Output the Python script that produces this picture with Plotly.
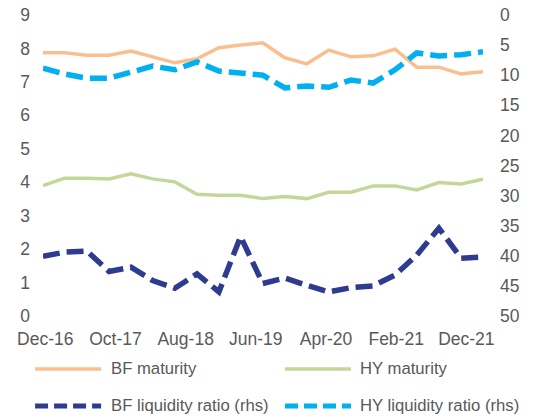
import pandas as pd
import plotly.graph_objects as go

# ---- data (quarterly, Dec-16 .. Dec-21) ----
dates = pd.date_range("2016-12-01", periods=21, freq="3MS")

bf_maturity = [7.87, 7.87, 7.80, 7.80, 7.92, 7.74, 7.57, 7.69, 8.02, 8.10, 8.17,
               7.72, 7.54, 7.95, 7.75, 7.78, 7.98, 7.44, 7.44, 7.24, 7.30]
hy_maturity = [3.90, 4.12, 4.12, 4.10, 4.25, 4.10, 4.01, 3.64, 3.61, 3.61, 3.51,
               3.57, 3.51, 3.70, 3.70, 3.89, 3.89, 3.77, 3.99, 3.95, 4.09]
bf_liquidity = [40.1, 39.4, 39.2, 42.6, 41.9, 44.1, 45.4, 43.0, 46.0, 36.8, 44.6,
                43.7, 44.9, 46.0, 45.3, 45.0, 43.2, 39.9, 35.4, 40.4, 40.2]
hy_liquidity = [8.85, 9.8, 10.5, 10.5, 9.5, 8.5, 9.1, 7.8, 9.3, 9.6, 10.0,
                12.1, 11.8, 12.0, 10.8, 11.3, 9.1, 6.3, 6.8, 6.6, 6.1]

series_names = ["BF maturity", "HY maturity", "BF liquidity ratio (rhs)", "HY liquidity ratio (rhs)"]
tick_labels = ["Dec-16", "Oct-17", "Aug-18", "Jun-19", "Apr-20", "Feb-21", "Dec-21"]

colors = {"BF maturity": "#FABF8F", "HY maturity": "#C4D79B",
          "BF liquidity ratio (rhs)": "#2E3B8E", "HY liquidity ratio (rhs)": "#00B0F0"}

start = pd.Timestamp("2016-12-01")
tick_vals = [start + pd.Timedelta(days=9.6 + 291.2 * k) for k in range(len(tick_labels))]

FONT = "Liberation Sans, Arial, sans-serif"
GREY = "#595959"

fig = go.Figure()
fig.add_trace(go.Scatter(x=dates, y=bf_maturity, name=series_names[0], mode="lines",
                         line=dict(color=colors[series_names[0]], width=3.5)))
fig.add_trace(go.Scatter(x=dates, y=hy_maturity, name=series_names[1], mode="lines",
                         line=dict(color=colors[series_names[1]], width=3.5)))
fig.add_trace(go.Scatter(x=dates, y=bf_liquidity, name=series_names[2], mode="lines",
                         yaxis="y2",
                         line=dict(color=colors[series_names[2]], width=5.5, dash="17px,7px")))
fig.add_trace(go.Scatter(x=dates, y=hy_liquidity, name=series_names[3], mode="lines",
                         yaxis="y2",
                         line=dict(color=colors[series_names[3]], width=5.5, dash="17px,7px")))

# manual legend (two columns, two rows)
legend_pos = [(-0.018, -0.176), (0.550, -0.176), (-0.018, -0.299), (0.550, -0.299)]
for name, (lx, ly) in zip(series_names, legend_pos):
    dashed = "liquidity" in name
    fig.add_shape(type="line", xref="paper", yref="paper",
                  x0=lx, x1=lx + 0.150, y0=ly, y1=ly,
                  line=dict(color=colors[name], width=5 if dashed else 3.5,
                            dash="13px,6px" if dashed else "solid"))
    fig.add_annotation(xref="paper", yref="paper", x=lx + 0.167, y=ly,
                       text=name, showarrow=False, xanchor="left", yanchor="middle",
                       font=dict(family=FONT, size=16.7, color=GREY))

fig.update_layout(
    width=540, height=419,
    margin=dict(l=43, r=57, t=15, b=103, autoexpand=False),
    paper_bgcolor="white", plot_bgcolor="white",
    showlegend=False,
    font=dict(family=FONT, size=17, color=GREY),
    xaxis=dict(type="date", range=[dates[0], dates[-1]], automargin=False,
               tickvals=tick_vals, ticktext=tick_labels,
               showgrid=False, zeroline=False, showline=False, ticks="",
               ticklabelstandoff=10,
               tickfont=dict(family=FONT, size=17.5, color=GREY)),
    yaxis=dict(range=[0, 9], dtick=1, showgrid=False, zeroline=False, showline=False,
               ticks="", ticklabelstandoff=12, automargin=False,
               tickfont=dict(family=FONT, size=17.5, color=GREY)),
    yaxis2=dict(range=[50, 0], dtick=5, overlaying="y", side="right", automargin=False,
                showgrid=False, zeroline=False, showline=False, ticks="",
                ticklabelstandoff=16,
                tickfont=dict(family=FONT, size=17.5, color=GREY)),
)

fig.write_html("out.html", config={"displayModeBar": False},
               post_script="document.body.style.margin='0';document.body.style.overflow='hidden';")
